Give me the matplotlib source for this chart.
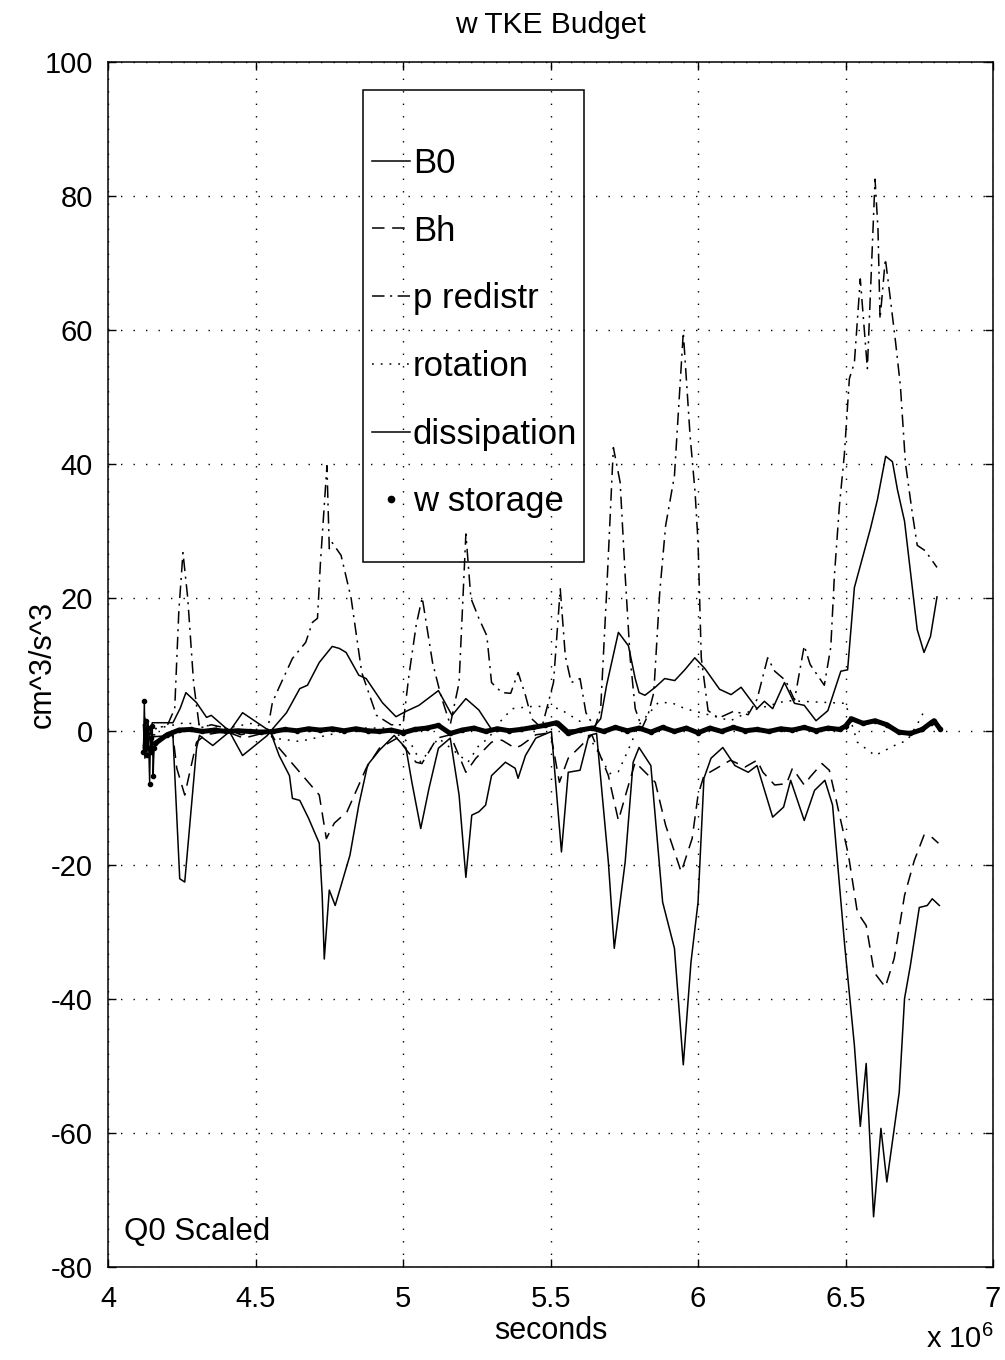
import numpy as np
import matplotlib
matplotlib.use("Agg")
import matplotlib.pyplot as plt
from matplotlib.lines import Line2D
from matplotlib.patches import Rectangle
from matplotlib.ticker import FuncFormatter

plt.rcParams['font.family'] = ['Liberation Sans', 'DejaVu Sans']
plt.rcParams['axes.unicode_minus'] = False
plt.rcParams['lines.scale_dashes'] = False
plt.rcParams['mathtext.fontset'] = 'custom'
plt.rcParams['mathtext.rm'] = 'Liberation Sans'

T_SCALE = 1e6  # time values below are in units of 10^6 s

# ---------------- data ----------------
b0_t = np.array([4.120, 4.125, 4.130, 4.135, 4.140, 4.150, 4.220, 4.245, 4.264, 4.300,
                 4.334, 4.350, 4.410, 4.456, 4.540, 4.560, 4.605, 4.650, 4.676, 4.716,
                 4.760, 4.784, 4.807, 4.850, 4.875, 4.930, 4.976, 5.010, 5.054, 5.120,
                 5.166, 5.213, 5.257, 5.300, 5.400, 5.480, 5.527, 5.560, 5.640, 5.670,
                 5.690, 5.730, 5.764, 5.787, 5.800, 5.820, 5.855, 5.887, 5.921, 5.955,
                 5.989, 6.023, 6.073, 6.112, 6.146, 6.200, 6.225, 6.253, 6.293, 6.327,
                 6.360, 6.400, 6.440, 6.484, 6.507, 6.530, 6.585, 6.608, 6.636, 6.659,
                 6.676, 6.700, 6.743, 6.766, 6.788, 6.810])
b0_v = np.array([-2.5, 2.0, -3.0, 1.5, -1.0, 1.3, 1.3, 3.5, 5.8, 4.3,
                 2.1, 2.4, 0.1, -3.6, -0.6, 0.5, 2.8, 6.4, 6.9, 10.3,
                 12.7, 12.4, 11.8, 8.4, 7.9, 4.3, 2.2, 3.0, 3.9, 6.1,
                 2.4, 4.9, 3.2, 0.3, 0.3, 0.8, 1.5, 0.2, 0.3, 1.9,
                 6.9, 14.8, 12.8, 7.9, 5.8, 5.4, 6.6, 7.9, 7.6, 9.2,
                 11.0, 9.4, 6.3, 5.5, 6.6, 3.4, 4.5, 3.4, 7.3, 4.2,
                 3.9, 1.6, 3.1, 9.0, 9.2, 21.5, 30.4, 34.6, 41.1, 40.3,
                 36.1, 31.4, 15.2, 11.8, 14.2, 20.1])

bh_t = np.array([4.120, 4.150, 4.220, 4.233, 4.260, 4.277, 4.300, 4.330, 4.400, 4.460,
                 4.550, 4.580, 4.650, 4.716, 4.740, 4.767, 4.810, 4.875, 4.920, 4.980,
                 5.044, 5.064, 5.115, 5.160, 5.213, 5.247, 5.300, 5.335, 5.380, 5.400,
                 5.450, 5.500, 5.530, 5.560, 5.595, 5.640, 5.696, 5.730, 5.757, 5.787,
                 5.855, 5.890, 5.943, 5.980, 6.000, 6.020, 6.110, 6.160, 6.200, 6.220,
                 6.260, 6.300, 6.320, 6.360, 6.380, 6.420, 6.445, 6.467, 6.510, 6.540,
                 6.570, 6.597, 6.635, 6.665, 6.700, 6.733, 6.766, 6.790, 6.815])
bh_v = np.array([0.0, -0.5, -0.6, -5.5, -9.5, -6.1, -1.6, -0.5, 0.0, -1.0,
                 0.0, -2.5, -6.1, -9.5, -16.0, -13.7, -12.0, -5.5, -2.5, -1.0,
                 -4.6, -4.8, -1.0, -0.5, -6.1, -4.0, -1.6, -1.3, -2.5, -2.1,
                 -0.5, -0.2, -7.6, -4.0, -2.5, -0.5, -6.6, -13.3, -9.1, -4.6,
                 -7.6, -14.0, -21.0, -16.0, -9.5, -6.6, -4.3, -5.3, -4.3, -6.1,
                 -8.0, -7.8, -5.5, -8.0, -6.8, -4.8, -5.8, -10.0, -18.5, -27.0,
                 -29.0, -36.0, -38.2, -33.9, -24.5, -19.3, -15.5, -15.7, -16.7])

pr_t = np.array([4.120, 4.150, 4.200, 4.226, 4.240, 4.254, 4.270, 4.290, 4.310, 4.350,
                 4.400, 4.450, 4.500, 4.540, 4.557, 4.580, 4.625, 4.670, 4.693, 4.710,
                 4.720, 4.742, 4.750, 4.760, 4.790, 4.824, 4.860, 4.910, 4.960, 5.000,
                 5.020, 5.045, 5.065, 5.100, 5.128, 5.160, 5.190, 5.213, 5.230, 5.257,
                 5.284, 5.300, 5.335, 5.365, 5.390, 5.415, 5.436, 5.470, 5.510, 5.533,
                 5.550, 5.570, 5.600, 5.620, 5.650, 5.670, 5.690, 5.713, 5.736, 5.753,
                 5.770, 5.787, 5.810, 5.830, 5.850, 5.870, 5.890, 5.920, 5.950, 5.973,
                 5.990, 6.000, 6.011, 6.034, 6.070, 6.120, 6.170, 6.200, 6.236, 6.260,
                 6.297, 6.327, 6.360, 6.380, 6.428, 6.450, 6.462, 6.479, 6.496, 6.513,
                 6.530, 6.550, 6.574, 6.600, 6.610, 6.617, 6.635, 6.652, 6.670, 6.686,
                 6.703, 6.726, 6.743, 6.770, 6.810])
pr_v = np.array([0.0, 0.5, 0.8, 3.4, 18.0, 26.7, 20.0, 7.3, 0.5, 1.0,
                 0.5, -0.5, 0.0, 0.0, 4.3, 6.6, 10.9, 13.3, 16.3, 16.9,
                 25.2, 39.7, 27.3, 28.2, 26.3, 19.9, 8.8, 2.4, 1.0, 1.0,
                 8.4, 16.0, 20.0, 10.3, 5.4, 1.0, 7.3, 29.5, 19.9, 16.9,
                 14.3, 7.3, 5.8, 5.7, 8.8, 5.4, 1.9, 0.5, 7.3, 21.3,
                 11.3, 7.3, 7.9, 2.8, 0.5, 3.4, 20.7, 42.4, 37.2, 23.3,
                 10.9, 3.4, 0.5, 2.4, 5.8, 20.7, 30.7, 38.2, 59.6, 44.2,
                 35.7, 28.3, 11.0, 3.1, 2.0, 3.0, 2.5, 4.8, 11.0, 9.0,
                 7.6, 4.7, 12.8, 10.0, 6.9, 12.6, 23.1, 33.6, 41.4, 52.7,
                 55.1, 67.6, 54.2, 82.5, 75.0, 61.6, 70.6, 64.6, 58.0, 51.6,
                 40.1, 32.7, 27.8, 27.0, 24.5])

rot_t = np.array([4.130, 4.160, 4.260, 4.330, 4.400, 4.500, 4.560, 4.650, 4.750, 4.850,
                  4.950, 5.000, 5.030, 5.060, 5.120, 5.220, 5.257, 5.290, 5.330, 5.370,
                  5.450, 5.530, 5.600, 5.660, 5.700, 5.730, 5.760, 5.800, 5.865, 5.910,
                  5.956, 6.044, 6.110, 6.180, 6.300, 6.400, 6.500, 6.540, 6.600, 6.666,
                  6.710, 6.750, 6.767])
rot_v = np.array([0.3, 0.4, 1.3, 0.9, 0.5, 1.3, -1.0, -1.5, -0.5, 0.5,
                  0.5, -1.0, -2.1, -4.6, -1.0, -4.6, -2.1, -1.0, 1.5, 3.4,
                  3.8, 3.4, 1.5, -3.0, -6.3, -6.0, -3.1, 1.0, 4.3, 4.3,
                  3.4, 2.4, 1.6, 3.1, 4.6, 4.4, 4.2, -1.6, -3.6, -2.1,
                  -1.3, 1.6, 3.1])

dis_t = np.array([4.120, 4.125, 4.130, 4.135, 4.140, 4.150, 4.220, 4.243, 4.260, 4.300,
                  4.310, 4.355, 4.410, 4.456, 4.550, 4.580, 4.615, 4.625, 4.650, 4.680,
                  4.716, 4.726, 4.733, 4.750, 4.770, 4.820, 4.850, 4.880, 4.920, 4.970,
                  5.010, 5.030, 5.060, 5.088, 5.120, 5.160, 5.190, 5.213, 5.233, 5.257,
                  5.280, 5.300, 5.347, 5.380, 5.390, 5.415, 5.450, 5.503, 5.537, 5.560,
                  5.600, 5.630, 5.656, 5.696, 5.716, 5.753, 5.780, 5.800, 5.840, 5.880,
                  5.920, 5.950, 5.976, 6.000, 6.020, 6.044, 6.084, 6.125, 6.170, 6.200,
                  6.253, 6.290, 6.314, 6.360, 6.395, 6.430, 6.456, 6.497, 6.530, 6.550,
                  6.570, 6.595, 6.620, 6.640, 6.682, 6.700, 6.720, 6.750, 6.777, 6.794,
                  6.818])
dis_v = np.array([1.0, -4.0, 0.5, -2.5, -1.0, -0.8, -0.6, -22.0, -22.5, -2.5,
                  -0.6, -2.1, -0.1, 2.8, 0.0, -3.6, -6.6, -10.0, -10.3, -13.0,
                  -16.7, -24.5, -34.0, -23.7, -26.0, -18.5, -11.0, -5.0, -2.8, -0.6,
                  -2.5, -7.6, -14.5, -8.5, -2.5, -1.0, -9.5, -21.8, -12.5, -12.0,
                  -11.0, -6.6, -4.6, -5.5, -7.0, -3.6, -1.0, 0.0, -18.0, -6.1,
                  -5.8, -0.6, -0.3, -19.5, -32.4, -19.5, -4.6, -2.4, -5.1, -25.5,
                  -32.4, -49.8, -34.5, -25.5, -7.0, -4.0, -2.4, -5.1, -6.1, -5.1,
                  -12.8, -11.3, -7.3, -13.3, -8.8, -7.3, -11.0, -31.9, -46.9, -59.0,
                  -49.6, -72.5, -59.3, -67.3, -53.9, -39.9, -34.9, -26.3, -26.0, -25.0,
                  -26.0])

ws_t = np.array([4.120, 4.123, 4.126, 4.129, 4.132, 4.135, 4.138, 4.141, 4.144, 4.147,
                 4.150, 4.153, 4.156, 4.160, 4.200, 4.240, 4.280, 4.320, 4.360, 4.400,
                 4.440, 4.480, 4.520, 4.560, 4.600, 4.640, 4.680, 4.720, 4.760, 4.800,
                 4.840, 4.880, 4.920, 4.960, 5.000, 5.040, 5.080, 5.120, 5.160, 5.200,
                 5.240, 5.280, 5.320, 5.360, 5.400, 5.440, 5.480, 5.520, 5.560, 5.600,
                 5.640, 5.680, 5.720, 5.760, 5.800, 5.840, 5.880, 5.920, 5.960, 6.000,
                 6.040, 6.080, 6.120, 6.160, 6.200, 6.240, 6.280, 6.320, 6.360, 6.400,
                 6.440, 6.480, 6.500, 6.520, 6.560, 6.600, 6.640, 6.680, 6.720, 6.760,
                 6.790, 6.800, 6.820])
ws_v = np.array([-3.0, 4.6, -2.0, 1.5, -3.5, 0.5, -2.5, -7.8, -1.0, -3.0,
                 0.8, -6.6, -2.5, -1.8, -0.5, 0.2, 0.3, 0.0, 0.2, 0.0,
                 0.1, 0.0, -0.1, 0.0, 0.3, 0.1, 0.4, 0.2, 0.4, 0.1,
                 0.4, 0.1, 0.0, 0.2, -0.2, 0.3, 0.5, 0.9, -0.3, 0.2,
                 0.5, 0.0, 0.4, 0.1, 0.3, 0.6, 0.9, 1.3, -0.3, 0.2,
                 0.5, 0.0, 0.6, 0.1, 0.5, -0.1, 0.6, 0.0, 0.5, -0.2,
                 0.5, 0.0, 0.6, 0.1, 0.3, 0.0, 0.4, 0.2, 0.6, 0.1,
                 0.5, 0.3, 0.8, 1.9, 1.2, 1.6, 1.0, -0.1, -0.3, 0.3,
                 1.3, 1.6, 0.4])
WS_NOISY = 14  # first samples form the noisy start-up blob

x_ticks = [4, 4.5, 5, 5.5, 6, 6.5, 7]
y_ticks = [-80, -60, -40, -20, 0, 20, 40, 60, 80, 100]
labels = ['B0', 'Bh', 'p redistr', 'rotation', 'dissipation', 'w storage']

# ---------------- figure ----------------
fig = plt.figure(figsize=(10.05, 13.6), dpi=100)
ax = fig.add_axes([0.1075, 0.0684, 0.8806, 0.8860])
k = 'black'
lw = 1.1

h_b0, = ax.plot(b0_t * T_SCALE, b0_v, color=k, lw=lw)
h_bh, = ax.plot(bh_t * T_SCALE, bh_v, color=k, lw=lw, dashes=(9, 5.5))
h_pr, = ax.plot(pr_t * T_SCALE, pr_v, color=k, lw=lw, dashes=(9, 4, 1.5, 4))
h_rot, = ax.plot(rot_t * T_SCALE, rot_v, color=k, lw=lw, dashes=(1.3, 5))
h_dis, = ax.plot(dis_t * T_SCALE, dis_v, color=k, lw=lw)
ax.plot(ws_t[:WS_NOISY] * T_SCALE, ws_v[:WS_NOISY], color=k, lw=1.0,
        marker='.', ms=6)
ax.plot(ws_t[WS_NOISY - 1:] * T_SCALE, ws_v[WS_NOISY - 1:], color=k, lw=3.6,
        marker='.', ms=6, solid_capstyle='round', solid_joinstyle='round')
h_ws = Line2D([], [], color=k, marker='.', ms=9, linestyle='none')

ax.set_xlim(4 * T_SCALE, 7 * T_SCALE)
ax.set_ylim(-80, 100)
ax.set_xticks([v * T_SCALE for v in x_ticks])
ax.set_yticks(y_ticks)
ax.xaxis.set_major_formatter(FuncFormatter(lambda v, p: f"{v / T_SCALE:g}"))
ax.tick_params(direction='in', length=6, width=1, top=True, right=True,
               labelsize=21)
ax.tick_params(axis='x', pad=13)
ax.tick_params(axis='y', pad=11)
ax.grid(True, color=k, linestyle=(0, (1, 8)), lw=1.0)
for s in ax.spines.values():
    s.set_linewidth(1.1)

ax.set_title('w TKE Budget', fontsize=21.5, pad=21)
ax.set_xlabel('seconds', fontsize=22, labelpad=2)
ax.set_ylabel('cm^3/s^3', fontsize=22)
ax.yaxis.set_label_coords(-0.057, 0.5)

fig.text(0.921, 0.009, r'x 10$^{6}$', fontsize=21, ha='left', va='baseline')
ax.text(0.018, 0.0224, 'Q0 Scaled', transform=ax.transAxes, fontsize=22.5,
        ha='left', va='baseline')

# legend box (transparent, grid visible through it)
ax.add_patch(Rectangle((0.2881, 0.5851), 0.2497, 0.3917, transform=ax.transAxes,
                       fill=False, edgecolor=k, lw=1.1, zorder=5))
ax.legend([h_b0, h_bh, h_pr, h_rot, h_dis, h_ws], labels, frameon=False,
          loc='upper left', bbox_to_anchor=(0.298, 0.9296), borderpad=0,
          borderaxespad=0, fontsize=25, labelspacing=1.0, handlelength=1.1,
          handletextpad=0.08)

fig.savefig('out.png', dpi=100)
